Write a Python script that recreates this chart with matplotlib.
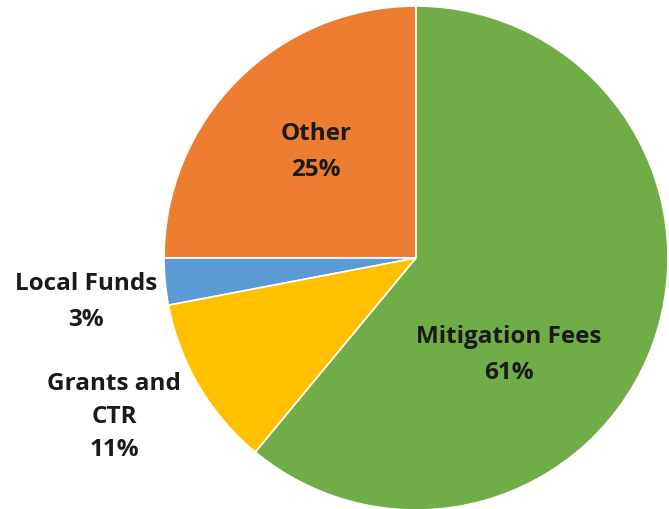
import matplotlib
matplotlib.use("Agg")
import matplotlib.pyplot as plt

categories = ["Other", "Local Funds", "Grants and\nCTR", "Mitigation Fees"]
values = [25, 3, 11, 61]
colors = ["#ED7D31", "#5B9BD5", "#FFC000", "#70AD47"]

W, H = 669, 510
fig = plt.figure(figsize=(W / 100, H / 100), dpi=100)
cx, cy, r = 416, 259, 252
ax = fig.add_axes([(cx - r) / W, (H - cy - r) / H, 2 * r / W, 2 * r / H])
ax.pie(values, colors=colors, startangle=90, counterclock=True, radius=1,
       wedgeprops=dict(edgecolor="white", linewidth=1.2))
ax.set_xlim(-1, 1)
ax.set_ylim(-1, 1)
ax.set_aspect("equal")
ax.axis("off")

# label positions in pixel space (layout)
label_pos = [(316, 152), (86, 302), (114, 417), (509, 355)]
spacing = [1.62, 1.62, 1.5, 1.62]

def px2data(px, py):
    return (px - cx) / r, (cy - py) / r

for cat, val, (px, py), ls in zip(categories, values, label_pos, spacing):
    x, y = px2data(px, py)
    ax.text(x, y, f"{cat}\n{val}%", ha="center", va="center", fontsize=17.5,
            fontweight="bold", family="Open Sans", color="#1a1a1a",
            linespacing=ls, clip_on=False)

fig.savefig("out.png", dpi=100)
